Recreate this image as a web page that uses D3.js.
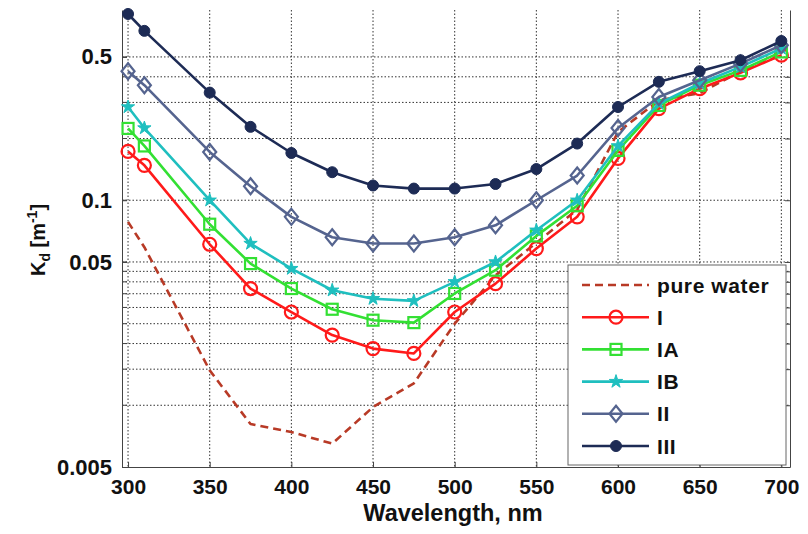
<!DOCTYPE html>
<html><head><meta charset="utf-8">
<script src="https://cdn.jsdelivr.net/npm/d3@7"></script>
<style>
body{margin:0;background:#fff;}
svg{display:block;}
text{font-family:"Liberation Sans",Arial,Helvetica,sans-serif;font-weight:bold;fill:#111;}
</style></head>
<body>
<svg id="chart" width="808" height="534"></svg>
<script>
const wavelengths = [300,310,350,375,400,425,450,475,500,525,550,575,600,625,650,675,700];
const pureWater = [0.0784,0.059,0.0148,0.0081,0.0074,0.0065,0.0098,0.0128,0.025,0.043,0.062,0.09,0.215,0.307,0.333,0.425,0.51];
const seriesI   = [0.173,0.148,0.061,0.0371,0.0285,0.022,0.0189,0.0179,0.0285,0.0392,0.0581,0.083,0.16,0.28,0.35,0.418,0.51];
const seriesIA  = [0.224,0.184,0.0764,0.0491,0.0371,0.0294,0.026,0.0253,0.0351,0.0456,0.067,0.094,0.175,0.29,0.364,0.43,0.529];
const seriesIB  = [0.285,0.225,0.100,0.0615,0.0464,0.0364,0.0331,0.0323,0.040,0.050,0.0714,0.100,0.184,0.296,0.371,0.447,0.55];
const seriesII  = [0.426,0.364,0.172,0.117,0.083,0.066,0.0615,0.0615,0.066,0.0755,0.100,0.132,0.225,0.319,0.385,0.464,0.570];
const seriesIII = [0.81,0.67,0.335,0.228,0.170,0.137,0.118,0.114,0.114,0.120,0.142,0.189,0.285,0.378,0.426,0.482,0.598];
const legendLabels = ["pure water","I","IA","IB","II","III"];
const xTicks = [300,350,400,450,500,550,600,650,700];
const yTickLabels = [0.005,0.05,0.1,0.5];
const yGrid = [0.01,0.015,0.02,0.025,0.03,0.035,0.04,0.045,0.05,0.1,0.2,0.3,0.4,0.5];
const xLabel = "Wavelength, nm";

const L=122,R=790,T=10,B=467;
const svg=d3.select("#chart");
const x=d3.scaleLinear().domain([296.3,705.3]).range([L,R]);
const y=d3.scaleLog().domain([0.005,0.847]).range([B,T]);

// grid
const g=svg.append("g");
g.selectAll(".vg").data(xTicks).join("line")
 .attr("x1",d=>x(d)).attr("x2",d=>x(d)).attr("y1",T).attr("y2",B)
 .attr("stroke","#333").attr("stroke-width",1).attr("stroke-dasharray","1.5,2");
g.selectAll(".hg").data(yGrid).join("line")
 .attr("x1",L).attr("x2",R).attr("y1",d=>y(d)).attr("y2",d=>y(d))
 .attr("stroke","#333").attr("stroke-width",1).attr("stroke-dasharray","1.5,2");

// axes
const xAxis=d3.axisBottom(x).tickValues(xTicks).tickSizeInner(-5).tickSizeOuter(0).tickPadding(12);
const ax=svg.append("g").attr("transform",`translate(0,${B})`).call(xAxis);
ax.select(".domain").attr("stroke","#444");
ax.selectAll(".tick line").attr("stroke","#444");
ax.selectAll("text").attr("font-size",21).attr("fill","#111").style("font-family","'Liberation Sans',Arial,sans-serif").style("font-weight","bold");

const yAxis=d3.axisLeft(y).tickValues(yTickLabels).tickFormat(d3.format("")).tickSizeInner(-5).tickSizeOuter(0).tickPadding(10);
const ay=svg.append("g").attr("transform",`translate(${L},0)`).call(yAxis);
ay.select(".domain").attr("stroke","#444");
ay.selectAll(".tick line").attr("stroke","#444");
ay.selectAll("text").attr("font-size",22).attr("fill","#111").style("font-family","'Liberation Sans',Arial,sans-serif").style("font-weight","bold");
ay.selectAll(".minor").data(yGrid).join("line").attr("class","minor")
 .attr("x1",0).attr("x2",5).attr("y1",d=>y(d)).attr("y2",d=>y(d)).attr("stroke","#444");

const ayr=svg.append("g").attr("transform",`translate(${R},0)`).call(d3.axisRight(y).tickValues(yGrid).tickFormat("").tickSizeInner(-5).tickSizeOuter(0));
ayr.select(".domain").attr("stroke","#444");
ayr.selectAll(".tick line").attr("stroke","#444");

// axis labels
svg.append("text").attr("x",453).attr("y",521).attr("text-anchor","middle").attr("font-size",23.5).text(xLabel);
const yl=svg.append("text").attr("transform","translate(45,240) rotate(-90)").attr("text-anchor","middle").attr("font-size",20);
yl.append("tspan").text("K");
yl.append("tspan").attr("font-size",14).attr("dy",5).text("d");
yl.append("tspan").attr("dy",-5).text(" [m");
yl.append("tspan").attr("font-size",14).attr("dy",-8).text("-1");
yl.append("tspan").attr("dy",8).text("]");

// series definitions
const series=[
 {name:legendLabels[0],vals:pureWater,color:"#b83a26",dash:"8,5",marker:null},
 {name:legendLabels[1],vals:seriesI,color:"#ff1a1a",marker:"circle"},
 {name:legendLabels[2],vals:seriesIA,color:"#33e033",marker:"square"},
 {name:legendLabels[3],vals:seriesIB,color:"#1fbfbf",marker:"star"},
 {name:legendLabels[4],vals:seriesII,color:"#55648f",marker:"diamond"},
 {name:legendLabels[5],vals:seriesIII,color:"#1d2b55",marker:"dot"}
];
const line=d3.line().x(d=>x(d[0])).y(d=>y(d[1]));

function drawMarker(sel,type,color){
 if(type==="circle") sel.append("circle").attr("r",6.5).attr("fill","none").attr("stroke",color).attr("stroke-width",2.2);
 else if(type==="square") sel.append("rect").attr("x",-5.5).attr("y",-5.5).attr("width",11).attr("height",11).attr("fill","none").attr("stroke",color).attr("stroke-width",2.2);
 else if(type==="star") sel.append("path").attr("d",d3.symbol(d3.symbolStar,55)()).attr("fill",color).attr("stroke",color).attr("stroke-width",1);
 else if(type==="diamond") sel.append("path").attr("d","M0,-8L6.5,0L0,8L-6.5,0Z").attr("fill","none").attr("stroke",color).attr("stroke-width",2.2);
 else if(type==="dot") sel.append("circle").attr("r",5.5).attr("fill",color).attr("stroke",color);
}

const plot=svg.append("g");
series.forEach(s=>{
 const pts=wavelengths.map((w,i)=>[w,s.vals[i]]);
 plot.append("path").datum(pts).attr("d",line).attr("fill","none").attr("stroke",s.color)
  .attr("stroke-width",2.6).attr("stroke-dasharray",s.dash||null).attr("stroke-linejoin","round");
 if(s.marker){
  plot.selectAll(null).data(pts).join("g").attr("transform",d=>`translate(${x(d[0])},${y(d[1])})`)
   .each(function(){drawMarker(d3.select(this),s.marker,s.color);});
 }
});

// legend
const lg=svg.append("g");
lg.append("rect").attr("x",568).attr("y",265).attr("width",218).attr("height",200).attr("fill","#fff").attr("stroke","#666").attr("stroke-width",1);
series.forEach((s,i)=>{
 const yy=285+i*32.2;
 lg.append("line").attr("x1",582).attr("x2",649).attr("y1",yy).attr("y2",yy).attr("stroke",s.color).attr("stroke-width",2.6).attr("stroke-dasharray",s.dash||null);
 if(s.marker){const m=lg.append("g").attr("transform",`translate(616,${yy})`);drawMarker(m,s.marker,s.color);}
 lg.append("text").attr("x",657).attr("y",yy).attr("dy","0.36em").attr("font-size",21).attr("letter-spacing",0.6).text(s.name);
});
</script>
</body></html>
